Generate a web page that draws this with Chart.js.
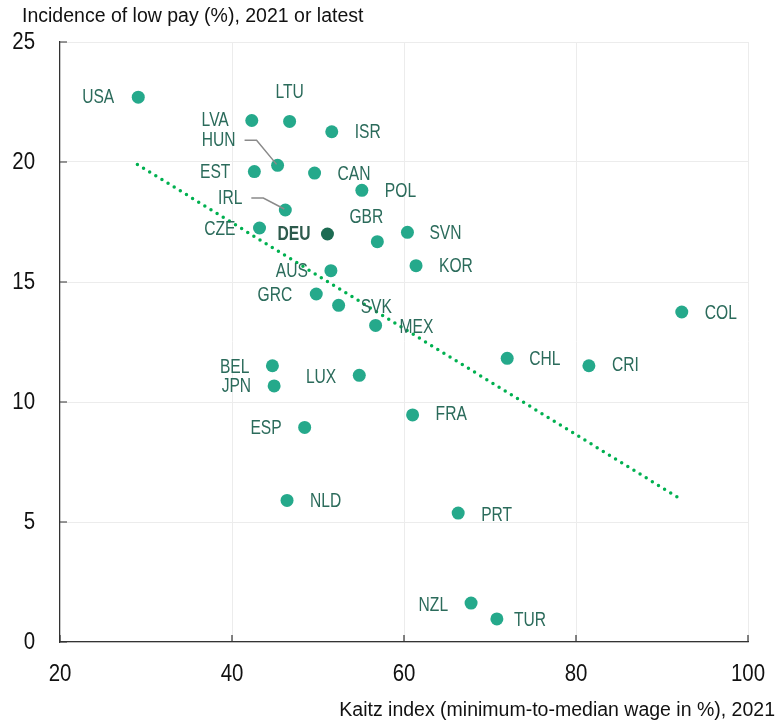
<!DOCTYPE html>
<html>
<head>
<meta charset="utf-8">
<script src="https://cdn.jsdelivr.net/npm/chart.js@4.4.0/dist/chart.umd.min.js"></script>
<style>
  html, body { margin: 0; padding: 0; background: #ffffff; }
  #wrap { width: 777px; height: 726px; }
</style>
</head>
<body>
<div id="wrap"><canvas id="scatter" width="777" height="726"></canvas></div>
<script>
// Data
const countries = ['USA', 'LVA', 'LTU', 'ISR', 'HUN', 'EST', 'CAN', 'POL', 'IRL', 'CZE',
  'DEU', 'GBR', 'SVN', 'KOR', 'AUS', 'GRC', 'SVK', 'MEX', 'COL', 'CHL',
  'CRI', 'BEL', 'JPN', 'LUX', 'FRA', 'ESP', 'NLD', 'PRT', 'NZL', 'TUR'];
const kaitz = [29.1, 42.3, 46.7, 51.6, 45.3, 42.6, 49.6, 55.1, 46.2, 43.2,
  51.1, 56.9, 60.4, 61.4, 51.5, 49.8, 52.4, 56.7, 92.3, 72.0,
  81.5, 44.7, 44.9, 54.8, 61.0, 48.45, 46.4, 66.3, 67.8, 70.8];
const lowPay = [22.7, 21.73, 21.69, 21.26, 19.86, 19.6, 19.54, 18.82, 18.0, 17.25,
  17.0, 16.68, 17.07, 15.68, 15.47, 14.5, 14.03, 13.19, 13.75, 11.82,
  11.51, 11.51, 10.67, 11.11, 9.46, 8.94, 5.9, 5.37, 1.62, 0.96];
const trendX = [29.0, 92.1];
const trendY = [19.9, 5.97];
const highlight = 'DEU';

const FONT = '"Liberation Sans", Arial, sans-serif';
const POINT_COL = '#25a98b';
const DEU_COL = '#1c6b52';
const LABEL_COL = '#2b6b5b';

// label placement: side ('l' = left of point, 'r' = right, 'c' = centred), pixel offsets
const labelPlace = {
  USA: ['l', -24, 0], LVA: ['l', -23, 0], LTU: ['c', 0, -29], ISR: ['r', 23, 1],
  HUN: ['l', -42, -25, true], EST: ['l', -24, 1], CAN: ['r', 23, 1], POL: ['r', 23, 1],
  IRL: ['l', -43, -12, true], CZE: ['l', -24, 1], DEU: ['l', -17, 0], GBR: ['c', -11, -24],
  SVN: ['r', 22, 1], KOR: ['r', 23, 1], AUS: ['l', -23, 1], GRC: ['l', -24, 1],
  SVK: ['r', 22, 2], MEX: ['r', 24, 2], COL: ['r', 23, 1], CHL: ['r', 22, 1],
  CRI: ['r', 23, 0], BEL: ['l', -23, 2], JPN: ['l', -23, 1], LUX: ['l', -23, 2],
  FRA: ['r', 23, 0], ESP: ['l', -23, 1], NLD: ['r', 23, 1], PRT: ['r', 23, 2],
  NZL: ['l', -23, 2], TUR: ['r', 17, 2]
};

const points = countries.map((c, i) => ({ x: kaitz[i], y: lowPay[i] }));
const trend = trendX.map((x, i) => ({ x: x, y: trendY[i] }));

// condensed text: no narrow font installed, so squeeze horizontally
function narrowText(ctx, text, x, y, align, sx) {
  ctx.save();
  ctx.translate(x, y);
  ctx.scale(sx, 1);
  ctx.textAlign = align;
  ctx.fillText(text, 0, 0);
  ctx.restore();
}

// country labels, leader lines, tick labels, inner tick marks and axis titles
const extras = {
  id: 'extras',
  afterDatasetsDraw(chart) {
    const ctx = chart.ctx;
    const meta = chart.getDatasetMeta(0);
    ctx.save();
    countries.forEach((c, i) => {
      const pt = meta.data[i];
      const p = labelPlace[c];
      const lx = pt.x + p[1];
      const ly = pt.y + p[2];
      if (p[3]) {
        ctx.strokeStyle = '#8a8a8a';
        ctx.lineWidth = 1.5;
        ctx.beginPath();
        ctx.moveTo(lx + 9, ly);
        ctx.lineTo(lx + 21, ly);
        ctx.lineTo(pt.x - 1, pt.y - 1);
        ctx.stroke();
      }
      ctx.font = (c === highlight ? 'bold ' : '') + '20px ' + FONT;
      ctx.fillStyle = c === highlight ? '#2d5a4c' : LABEL_COL;
      ctx.textBaseline = 'middle';
      const align = p[0] === 'l' ? 'right' : (p[0] === 'r' ? 'left' : 'center');
      narrowText(ctx, c, lx, ly, align, 0.78);
    });
    ctx.restore();
  },
  afterDraw(chart) {
    const ctx = chart.ctx;
    const area = chart.chartArea;
    const xs = chart.scales.x;
    const ys = chart.scales.y;
    ctx.save();
    ctx.strokeStyle = '#333333';
    ctx.lineWidth = 1.2;
    ctx.beginPath();
    ys.ticks.forEach(t => {
      const y = ys.getPixelForValue(t.value);
      ctx.moveTo(area.left, y);
      ctx.lineTo(area.left + 7, y);
    });
    xs.ticks.forEach(t => {
      const x = xs.getPixelForValue(t.value);
      ctx.moveTo(x, area.bottom);
      ctx.lineTo(x, area.bottom - 7);
    });
    ctx.stroke();

    ctx.fillStyle = '#111111';
    ctx.font = '23.5px ' + FONT;
    ctx.textBaseline = 'middle';
    ys.ticks.forEach(t => {
      narrowText(ctx, String(t.value), 35, ys.getPixelForValue(t.value) + 1, 'right', 0.87);
    });
    xs.ticks.forEach(t => {
      narrowText(ctx, String(t.value), xs.getPixelForValue(t.value), area.bottom + 33, 'center', 0.87);
    });

    ctx.font = '19.5px ' + FONT;
    ctx.textAlign = 'left';
    ctx.fillText('Incidence of low pay (%), 2021 or latest', 22, 17);
    ctx.textAlign = 'right';
    ctx.fillText('Kaitz index (minimum-to-median wage in %), 2021', 775, 711);
    ctx.restore();
  }
};

const ctx = document.getElementById('scatter').getContext('2d');
new Chart(ctx, {
  type: 'scatter',
  data: {
    datasets: [{
      data: points,
      order: 1,
      pointRadius: 6.5,
      pointHoverRadius: 6.5,
      pointBorderWidth: 0,
      pointBackgroundColor: countries.map(c => c === highlight ? DEU_COL : POINT_COL)
    }, {
      type: 'line',
      data: trend,
      order: 2,
      borderColor: '#00b050',
      borderWidth: 3.5,
      borderCapStyle: 'round',
      borderDash: [0, 7.2],
      pointRadius: 0,
      fill: false
    }]
  },
  options: {
    responsive: false,
    animation: false,
    devicePixelRatio: 1,
    layout: { padding: { left: 0, right: 29, top: 42, bottom: 0 } },
    plugins: { legend: { display: false }, tooltip: { enabled: false } },
    scales: {
      x: {
        type: 'linear',
        min: 20, max: 100,
        afterFit(scale) { scale.height = 84; },
        ticks: { stepSize: 20, display: false },
        grid: { color: '#ececec', lineWidth: 1, drawTicks: false },
        border: { color: '#333333', width: 1.2 }
      },
      y: {
        type: 'linear',
        min: 0, max: 25,
        afterFit(scale) { scale.width = 60; },
        ticks: { stepSize: 5, display: false },
        grid: { color: '#ececec', lineWidth: 1, drawTicks: false },
        border: { color: '#333333', width: 1.2 }
      }
    }
  },
  plugins: [extras]
});
</script>
</body>
</html>
